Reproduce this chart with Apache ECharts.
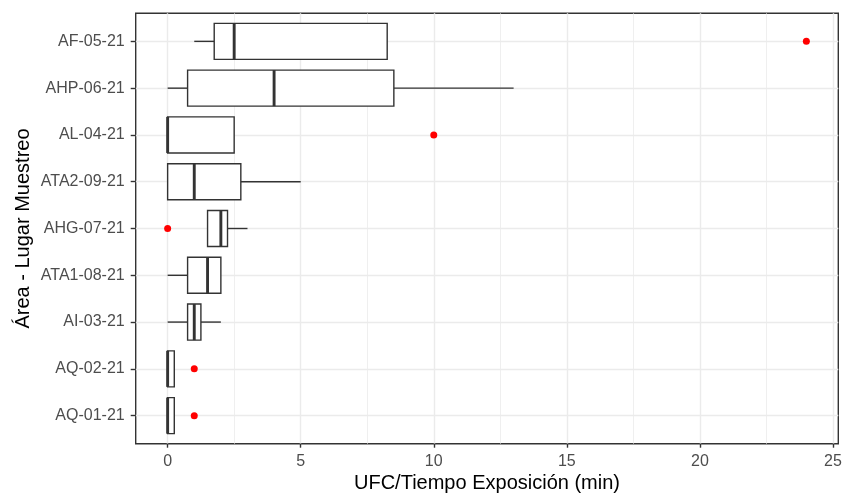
<!DOCTYPE html>
<html>
<head>
<meta charset="utf-8">
<script src="https://cdn.jsdelivr.net/npm/echarts@6/dist/echarts.min.js"></script>
<style>
html,body{margin:0;padding:0;background:#fff;}
#chart{width:842px;height:493px;}
</style>
</head>
<body>
<div id="chart"></div>
<script>
// ---- data ----
const categories = ['AF-05-21','AHP-06-21','AL-04-21','ATA2-09-21','AHG-07-21','ATA1-08-21','AI-03-21','AQ-02-21','AQ-01-21'];
const whiskerLow  = [1,    0,    0,   0,    1.5,  0,    0,    0,    0];
const q1          = [1.75, 0.75, 0,   0,    1.5,  0.75, 0.75, 0,    0];
const median      = [2.5,  4,    0,   1,    2,    1.5,  1,    0,    0];
const q3          = [8.25, 8.5,  2.5, 2.75, 2.25, 2,    1.25, 0.25, 0.25];
const whiskerHigh = [8.25, 13,   2.5, 5,    3,    2,    2,    0.25, 0.25];
const outlierCats   = ['AF-05-21','AL-04-21','AHG-07-21','AQ-02-21','AQ-01-21'];
const outlierValues = [24, 10, 0, 1, 1];
const xTicks = [0, 5, 10, 15, 20, 25];
const xTitle = 'UFC/Tiempo Exposición (min)';
const yTitle = 'Área - Lugar Muestreo';

// ---- layout ----
const FONT = 'Liberation Sans, Arial, sans-serif';
const frame = {left: 135.7, right: 3.7, top: 13.3, bottom: 49.3};
const xMin = xTicks[0], xMax = xTicks[xTicks.length - 1];
// ggplot-like 5% expansion of the data range
const dataLo = Math.min(...whiskerLow, ...outlierValues);
const dataHi = Math.max(...whiskerHigh, ...outlierValues);
const expand = (dataHi - dataLo) * 0.05;
const expLo = dataLo - expand, expHi = dataHi + expand;
const plotW = 842 - frame.left - frame.right;
const ppu = plotW / (expHi - expLo);
const innerLeft = frame.left + (xMin - expLo) * ppu;
const innerRight = 842 - (frame.left + (xMax - expLo) * ppu);
const plotH = 493 - frame.top - frame.bottom;
const ppc = plotH / (categories.length - 1 + 1.2);
const catTop = frame.top + 0.6 * ppc;
const catBottom = frame.bottom + 0.6 * ppc;

const boxData = categories.map((c, i) => [i, whiskerLow[i], q1[i], median[i], q3[i], whiskerHigh[i]]);
const outlierData = outlierCats.map((c, i) => [outlierValues[i], c]);

const LINE = '#333333';
const GRID = '#ebebeb';
const G = {outerBoundsMode: 'none', containLabel: false};

const option = {
  animation: false,
  backgroundColor: '#ffffff',
  grid: [
    Object.assign({left: frame.left, right: frame.right, top: frame.top, bottom: frame.bottom, show: true, borderColor: LINE, borderWidth: 1.4, backgroundColor: 'transparent'}, G),
    Object.assign({left: innerLeft, right: innerRight, top: frame.top, bottom: frame.bottom}, G),
    Object.assign({left: frame.left, right: frame.right, top: catTop, bottom: catBottom}, G),
    Object.assign({left: innerLeft, right: innerRight, top: catTop, bottom: catBottom}, G)
  ],
  xAxis: [
    {gridIndex: 0, type: 'value', min: 0, max: 1, axisLine: {show: false}, axisTick: {show: false}, axisLabel: {show: false}, splitLine: {show: false},
     name: xTitle, nameLocation: 'middle', nameGap: 30, nameTextStyle: {fontFamily: FONT, fontSize: 20, color: '#000'}},
    {gridIndex: 1, type: 'value', min: xMin, max: xMax, interval: 5,
     axisLine: {show: false},
     axisTick: {show: true, length: 4, lineStyle: {color: LINE, width: 1.4}},
     axisLabel: {fontFamily: FONT, fontSize: 16, color: '#4d4d4d', margin: 10},
     splitLine: {show: true, lineStyle: {color: GRID, width: 1.4}},
     minorTick: {show: false, splitNumber: 2},
     minorSplitLine: {show: true, lineStyle: {color: GRID, width: 0.8}}},
    {gridIndex: 2, type: 'value', show: false},
    {gridIndex: 3, type: 'value', min: xMin, max: xMax, show: false}
  ],
  yAxis: [
    {gridIndex: 0, type: 'value', min: 0, max: 1, axisLine: {show: false}, axisTick: {show: false}, axisLabel: {show: false}, splitLine: {show: false},
     name: yTitle, nameLocation: 'middle', nameGap: 102, nameTextStyle: {fontFamily: FONT, fontSize: 20, color: '#000'}},
    {gridIndex: 1, type: 'value', show: false},
    {gridIndex: 2, type: 'category', data: categories, inverse: true, boundaryGap: false,
     axisLine: {show: false},
     axisTick: {show: true, interval: 0, length: 5, lineStyle: {color: LINE, width: 1.4}},
     axisLabel: {interval: 0, fontFamily: FONT, fontSize: 16, color: '#4d4d4d', margin: 11},
     splitLine: {show: true, interval: 0, lineStyle: {color: GRID, width: 1.4}}},
    {gridIndex: 3, type: 'category', data: categories, inverse: true, boundaryGap: false, show: false}
  ],
  series: [
    {
      type: 'custom', xAxisIndex: 3, yAxisIndex: 3, clip: false, z: 5,
      data: boxData,
      encode: {x: [1, 2, 3, 4, 5], y: 0},
      renderItem: function (params, api) {
        const yi = api.value(0);
        const pLow = api.coord([api.value(1), yi]);
        const pQ1 = api.coord([api.value(2), yi]);
        const pMed = api.coord([api.value(3), yi]);
        const pQ3 = api.coord([api.value(4), yi]);
        const pHigh = api.coord([api.value(5), yi]);
        const h = api.size([0, 1])[1] * 0.77;
        const y = pMed[1];
        const ls = {stroke: LINE, lineWidth: 1.4, fill: null};
        return {
          type: 'group',
          children: [
            {type: 'line', shape: {x1: pLow[0], y1: y, x2: pQ1[0], y2: y}, style: ls},
            {type: 'line', shape: {x1: pQ3[0], y1: y, x2: pHigh[0], y2: y}, style: ls},
            {type: 'rect', shape: {x: pQ1[0], y: y - h / 2, width: pQ3[0] - pQ1[0], height: h}, style: {stroke: LINE, lineWidth: 1.4, fill: '#ffffff'}},
            {type: 'line', shape: {x1: pMed[0], y1: y - h / 2, x2: pMed[0], y2: y + h / 2}, style: {stroke: LINE, lineWidth: 2.9}}
          ]
        };
      }
    },
    {
      type: 'scatter', xAxisIndex: 3, yAxisIndex: 3, clip: false, z: 6,
      data: outlierData, symbol: 'circle', symbolSize: 7,
      itemStyle: {color: '#ff0000', opacity: 1}
    }
  ]
};

const chart = echarts.init(document.getElementById('chart'), null, {renderer: 'canvas'});
chart.setOption(option);
</script>
</body>
</html>
